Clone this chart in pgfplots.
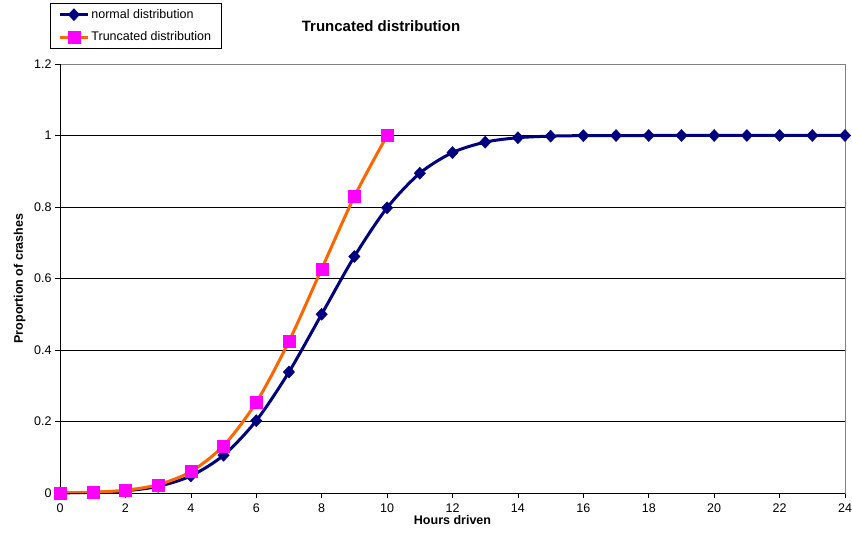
\documentclass[border=0pt]{standalone}
\usepackage{pgfplots}
\pgfplotsset{compat=1.18}
\usepackage{fontspec}
\setmainfont{Liberation Sans}
\definecolor{navyc}{RGB}{0,0,128}
\definecolor{orangec}{RGB}{255,102,0}
\definecolor{pinkc}{RGB}{255,0,255}
\begin{document}
\begin{tikzpicture}[x=1bp,y=1bp]
\useasboundingbox (-60bp,-40bp) rectangle (792bp,493bp);
\begin{axis}[
  at={(0,0)}, anchor=origin,
  scale only axis, width=785bp, height=429bp,
  xmin=0, xmax=24, ymin=0, ymax=1.2,
  xtick={0,2,...,24}, ytick={0,0.2,...,1.2},
  yticklabels={0,0.2,0.4,0.6,0.8,1,1.2},
  tick align=outside, xtick pos=bottom, ytick pos=left,
  major tick length=5bp,
  tick style={black, line width=0.6bp},
  ymajorgrids, grid style={black, line width=0.6bp},
  axis line style={gray, line width=0.8bp},
  /pgf/number format/assume math mode=true,
  ticklabel style={font=\fontsize{12.5bp}{14bp}\selectfont},
  xticklabel style={yshift=-2bp},
  xlabel={\textbf{Hours driven}},
  xlabel style={font=\fontsize{12.5bp}{14bp}\selectfont, at={(axis description cs:0.5,0)}, anchor=north, yshift=-19bp},
  ylabel={\textbf{Proportion of crashes}},
  ylabel style={font=\fontsize{12.5bp}{14bp}\selectfont, at={(axis description cs:0,0.5)}, anchor=south, yshift=31bp},
  legend style={at={(axis description cs:-0.0127,1.1422)}, anchor=north west,
    draw=black, line width=0.8bp, font=\fontsize{12.5bp}{14bp}\selectfont,
    inner xsep=8bp, inner ysep=4bp, row sep=8bp},
  legend cell align=left,
  legend image code/.code={\draw[mark repeat=2,mark phase=2,#1] plot coordinates {(0bp,0bp) (14bp,0bp) (28bp,0bp)};},
  clip=false,
]
\addplot[navyc, line width=3bp, smooth, mark=diamond*, mark size=6bp, mark options={solid, fill=navyc, draw=navyc, line width=0.5bp, xscale=1.25}]
coordinates {
(0,0.0004)(1,0.0018)(2,0.0062)(3,0.0186)(4,0.0478)(5,0.1056)(6,0.2023)(7,0.3385)(8,0.5)(9,0.6615)(10,0.7977)(11,0.8944)(12,0.9522)(13,0.9814)(14,0.9938)(15,0.9982)(16,0.9996)(17,0.9999)(18,1)(19,1)(20,1)(21,1)(22,1)(23,1)(24,1)
};
\addlegendentry{normal distribution}
\addplot[orangec, line width=3bp, smooth, mark=square*, mark size=6bp, mark options={solid, fill=pinkc, draw=pinkc, line width=0.3bp}]
coordinates {
(0,0.0005)(1,0.0023)(2,0.0078)(3,0.0233)(4,0.0599)(5,0.1324)(6,0.2536)(7,0.4243)(8,0.6268)(9,0.8293)(10,1)
};
\addlegendentry{Truncated distribution}
\draw[black, line width=0.8bp] (rel axis cs:0,1) -- (rel axis cs:0,0) -- (rel axis cs:1,0);
\node[font=\bfseries\fontsize{15bp}{17bp}\selectfont] at (axis description cs:0.409,1.0886) {Truncated distribution};
\end{axis}
\end{tikzpicture}
\end{document}
